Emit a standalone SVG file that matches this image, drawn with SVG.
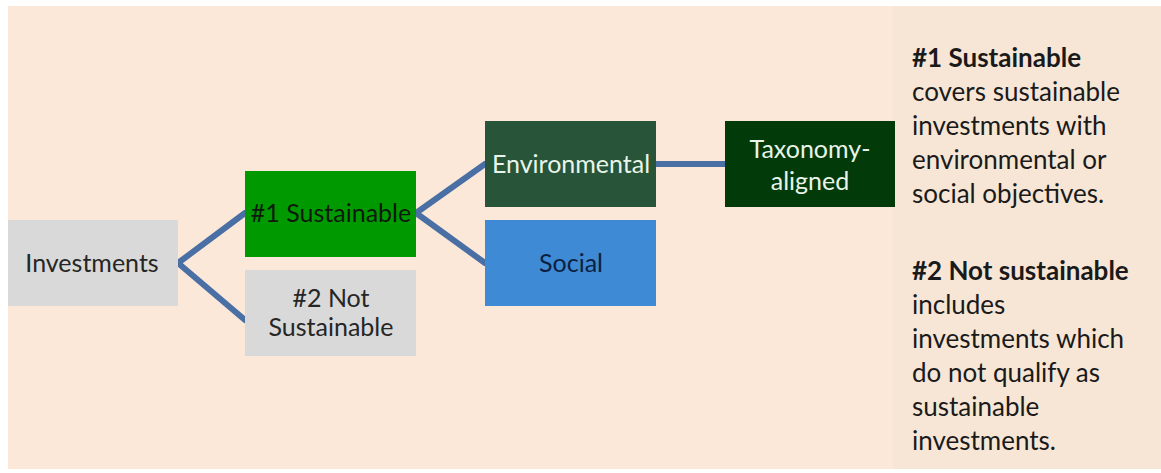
<svg xmlns="http://www.w3.org/2000/svg" width="1161" height="473" viewBox="0 0 1161 473">
<style>
.t{font-family:Lato,"Open Sans",sans-serif;font-size:25px;text-anchor:middle}
.d{font-family:Lato,"Open Sans",sans-serif;font-size:26px;fill:#1a1a1a}
.b{font-weight:bold}
.c{fill:none;stroke:#4a6fa5;stroke-width:6;stroke-linecap:round;stroke-linejoin:round}
</style>
<rect width="1161" height="473" fill="#ffffff"/>
<rect x="8" y="6" width="1153" height="463" fill="#fbe8d8"/>
<rect x="893" y="6" width="268" height="463" fill="#f7e6d6"/>
<g id="connectors">
<polyline class="c" points="245,213 178,263 245,320"/>
<polyline class="c" points="485,164 416,213 485,263"/>
<line class="c" x1="656" y1="164" x2="725" y2="164"/>
</g>
<g id="investments">
<rect x="8" y="220" width="170" height="86" fill="#d9d9d9"/>
<text class="t" x="92" y="272" fill="#262626">Investments</text>
</g>
<g id="sustainable">
<rect x="245" y="171" width="171" height="86" fill="#009a00"/>
<text class="t" x="331" y="222" fill="#0d1a0d">#1 Sustainable</text>
</g>
<g id="not-sustainable">
<rect x="245" y="270" width="171" height="86" fill="#d9d9d9"/>
<text class="t" x="331" y="307" fill="#262626">#2 Not</text>
<text class="t" x="331" y="336" fill="#262626">Sustainable</text>
</g>
<g id="environmental">
<rect x="485" y="121" width="171" height="86" fill="#285439"/>
<text class="t" x="571" y="173" fill="#e8f5e8">Environmental</text>
</g>
<g id="social">
<rect x="485" y="220" width="171" height="86" fill="#3e8ad5"/>
<text class="t" x="571" y="272" fill="#0d1f40">Social</text>
</g>
<g id="taxonomy">
<rect x="725" y="121" width="170" height="86" fill="#033a0a"/>
<text class="t" x="810" y="158" fill="#e8f5e8">Taxonomy-</text>
<text class="t" x="810" y="190" fill="#e8f5e8">aligned</text>
</g>
<g id="legend">
<text class="d b" x="912" y="67">#1 Sustainable</text>
<text class="d" x="912" y="101">covers sustainable</text>
<text class="d" x="912" y="135">investments with</text>
<text class="d" x="912" y="169">environmental or</text>
<text class="d" x="912" y="203">social objectives.</text>
<text class="d b" x="912" y="280">#2 Not sustainable</text>
<text class="d" x="912" y="314">includes</text>
<text class="d" x="912" y="348">investments which</text>
<text class="d" x="912" y="382">do not qualify as</text>
<text class="d" x="912" y="416">sustainable</text>
<text class="d" x="912" y="450">investments.</text>
</g>
</svg>
